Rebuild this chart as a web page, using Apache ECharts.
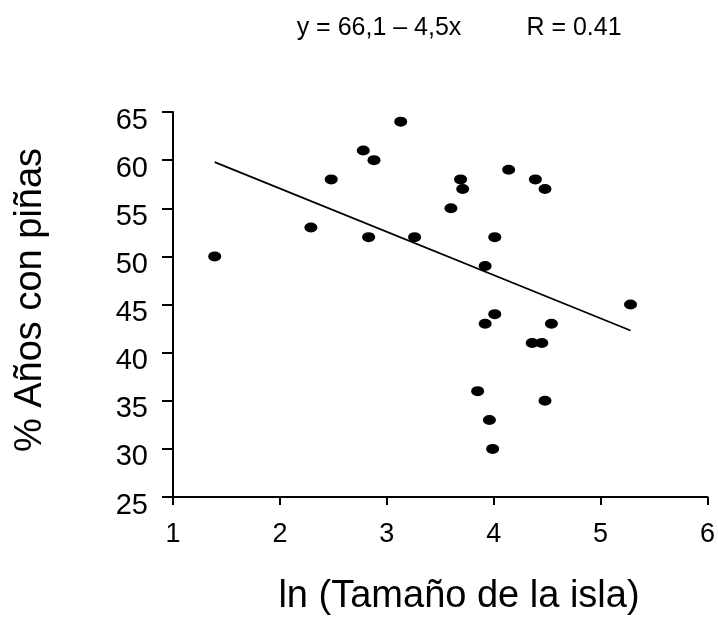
<!DOCTYPE html>
<html>
<head>
<meta charset="utf-8">
<script src="https://cdn.jsdelivr.net/npm/echarts@6/dist/echarts.min.js"></script>
<style>
  html, body { margin: 0; padding: 0; background: #fff; }
  #chart { width: 718px; height: 621px; }
</style>
</head>
<body>
<div id="chart"></div>
<script>
// ln(tamaño de la isla) de cada isla
const islaLn = [1.39, 2.29, 2.48, 2.78, 2.88, 2.83, 3.13, 3.26, 3.60, 3.69, 3.71, 4.01, 3.92,
                4.14, 4.39, 4.48, 5.28, 4.01, 3.92, 4.54, 4.36, 4.45, 3.85, 4.48, 3.96, 3.99];
// % años con piñas
const pctPinas = [50, 53, 58, 61, 60, 52, 64, 52, 55, 58, 57, 52, 49,
                  59, 58, 57, 45, 44, 43, 43, 41, 41, 36, 35, 33, 30];
// recta de regresión (extremos)
const rectaX = [1.39, 5.28];
const rectaY = [59.8, 42.3];

const ecuacion = 'y = 66,1 \u2013 4,5x';
const correlacion = 'R = 0.41';
const tituloX = 'ln (Tamaño de la isla)';
const tituloY = '% Años con piñas';

let chart = echarts.init(document.getElementById('chart'));

let puntos = islaLn.map((x, i) => [x, pctPinas[i]]);
let recta = rectaX.map((x, i) => [x, rectaY[i]]);

const fuente = 'Liberation Sans, Arial, sans-serif';
const estiloTitulo = {
    fontFamily: fuente,
    fontSize: 25,
    fontWeight: 'normal',
    color: '#000'
};

let option = {
    animation: false,
    title: [
        { text: ecuacion, left: 374, top: 11, textAlign: 'center', textStyle: estiloTitulo },
        { text: correlacion, left: 569, top: 11, textAlign: 'center', textStyle: estiloTitulo }
    ],
    graphic: [
        {
            type: 'text',
            x: 459,
            y: 597,
            style: {
                text: tituloX,
                font: '38px ' + fuente,
                fill: '#000',
                align: 'center',
                verticalAlign: 'middle'
            }
        },
        {
            type: 'text',
            x: 31,
            y: 300,
            rotation: Math.PI / 2,
            style: {
                text: tituloY,
                font: '38px ' + fuente,
                fill: '#000',
                align: 'center',
                verticalAlign: 'middle'
            }
        }
    ],
    grid: {
        left: 173,
        right: 9,
        top: 112,
        bottom: 124
    },
    xAxis: {
        type: 'value',
        min: 1,
        max: 6,
        interval: 1,
        axisLine: { onZero: false, lineStyle: { color: '#000', width: 2 } },
        axisTick: { show: true, length: 8, lineStyle: { color: '#000', width: 2 } },
        axisLabel: {
            fontFamily: fuente,
            fontSize: 27,
            color: '#000',
            margin: 24
        },
        splitLine: { show: false }
    },
    yAxis: {
        type: 'value',
        min: 25,
        max: 65,
        interval: 5,
        axisLine: { show: true, lineStyle: { color: '#000', width: 2 } },
        axisTick: { show: true, length: 11, lineStyle: { color: '#000', width: 2 } },
        axisLabel: {
            fontFamily: fuente,
            fontSize: 29,
            color: '#000',
            margin: 25,
            verticalAlign: 'top',
            lineHeight: 17
        },
        splitLine: { show: false }
    },
    series: [
        {
            name: 'islas',
            type: 'scatter',
            data: puntos,
            symbol: 'circle',
            symbolSize: [13, 10],
            itemStyle: { color: '#000', opacity: 1 }
        },
        {
            name: 'regresión',
            type: 'line',
            data: recta,
            symbol: 'none',
            lineStyle: { color: '#000', width: 1.8 }
        }
    ]
};
chart.setOption(option);
</script>
</body>
</html>
